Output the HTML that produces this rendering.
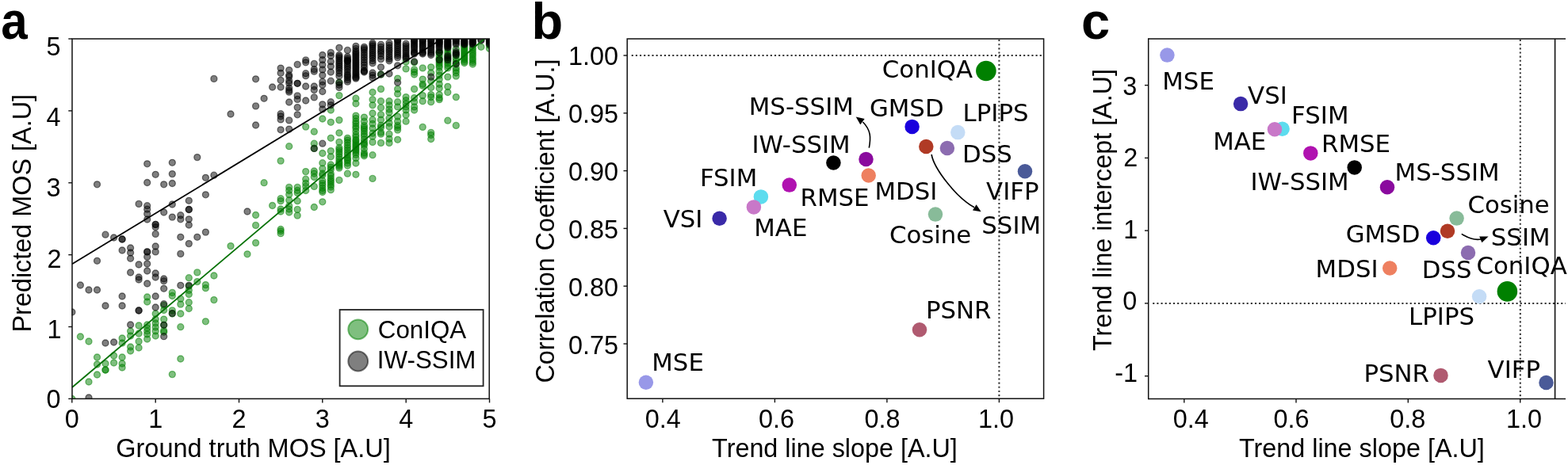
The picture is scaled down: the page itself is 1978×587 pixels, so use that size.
<!DOCTYPE html><html><head><meta charset="utf-8"><title>Figure</title><style>html,body{margin:0;padding:0;background:#fff;overflow:hidden;}svg{display:block;}</style></head><body><svg width="1978" height="587" viewBox="0 0 1978 587">
<rect width="1978" height="587" fill="#fff"/>
<defs><clipPath id="ca"><rect x="90.5" y="49" width="526.5" height="454.5"/></clipPath></defs>
<g clip-path="url(#ca)">
<g fill="rgb(0,128,0)" fill-opacity="0.5" stroke="rgb(0,128,0)" stroke-opacity="0.5" stroke-width="1.3">
<circle cx="90.9" cy="503.5" r="4.0"/>
<circle cx="101.4" cy="425.0" r="4.0"/>
<circle cx="112.0" cy="431.0" r="4.0"/>
<circle cx="112.0" cy="482.0" r="4.0"/>
<circle cx="122.5" cy="451.0" r="4.0"/>
<circle cx="122.5" cy="460.0" r="4.0"/>
<circle cx="122.5" cy="473.0" r="4.0"/>
<circle cx="133.0" cy="459.0" r="4.0"/>
<circle cx="133.0" cy="467.0" r="4.0"/>
<circle cx="133.0" cy="467.0" r="4.0"/>
<circle cx="143.6" cy="449.0" r="4.0"/>
<circle cx="143.6" cy="458.0" r="4.0"/>
<circle cx="154.1" cy="427.0" r="4.0"/>
<circle cx="154.1" cy="433.0" r="4.0"/>
<circle cx="154.1" cy="451.0" r="4.0"/>
<circle cx="154.1" cy="459.0" r="4.0"/>
<circle cx="154.1" cy="464.0" r="4.0"/>
<circle cx="164.6" cy="418.0" r="4.0"/>
<circle cx="164.6" cy="424.0" r="4.0"/>
<circle cx="164.6" cy="438.0" r="4.0"/>
<circle cx="164.6" cy="443.0" r="4.0"/>
<circle cx="175.1" cy="411.0" r="4.0"/>
<circle cx="175.1" cy="421.0" r="4.0"/>
<circle cx="175.1" cy="431.0" r="4.0"/>
<circle cx="175.1" cy="439.0" r="4.0"/>
<circle cx="185.7" cy="375.0" r="4.0"/>
<circle cx="185.7" cy="381.0" r="4.0"/>
<circle cx="185.7" cy="410.0" r="4.0"/>
<circle cx="185.7" cy="414.0" r="4.0"/>
<circle cx="185.7" cy="418.0" r="4.0"/>
<circle cx="185.7" cy="422.0" r="4.0"/>
<circle cx="185.7" cy="428.0" r="4.0"/>
<circle cx="196.2" cy="396.0" r="4.0"/>
<circle cx="196.2" cy="403.0" r="4.0"/>
<circle cx="196.2" cy="408.0" r="4.0"/>
<circle cx="196.2" cy="413.0" r="4.0"/>
<circle cx="196.2" cy="418.0" r="4.0"/>
<circle cx="196.2" cy="424.0" r="4.0"/>
<circle cx="206.7" cy="385.4" r="4.0"/>
<circle cx="206.7" cy="391.5" r="4.0"/>
<circle cx="206.7" cy="403.1" r="4.0"/>
<circle cx="206.7" cy="410.3" r="4.0"/>
<circle cx="206.7" cy="417.4" r="4.0"/>
<circle cx="206.7" cy="419.3" r="4.0"/>
<circle cx="217.3" cy="369.4" r="4.0"/>
<circle cx="217.3" cy="373.5" r="4.0"/>
<circle cx="217.3" cy="391.9" r="4.0"/>
<circle cx="217.3" cy="396.0" r="4.0"/>
<circle cx="217.3" cy="472.6" r="4.0"/>
<circle cx="227.8" cy="377.2" r="4.0"/>
<circle cx="227.8" cy="384.1" r="4.0"/>
<circle cx="227.8" cy="396.0" r="4.0"/>
<circle cx="227.8" cy="412.7" r="4.0"/>
<circle cx="227.8" cy="453.0" r="4.0"/>
<circle cx="238.3" cy="350.7" r="4.0"/>
<circle cx="238.3" cy="361.3" r="4.0"/>
<circle cx="238.3" cy="366.4" r="4.0"/>
<circle cx="238.3" cy="371.5" r="4.0"/>
<circle cx="238.3" cy="381.7" r="4.0"/>
<circle cx="238.3" cy="389.5" r="4.0"/>
<circle cx="248.8" cy="343.9" r="4.0"/>
<circle cx="248.8" cy="355.6" r="4.0"/>
<circle cx="259.4" cy="359.6" r="4.0"/>
<circle cx="259.4" cy="363.7" r="4.0"/>
<circle cx="259.4" cy="405.8" r="4.0"/>
<circle cx="269.9" cy="348.0" r="4.0"/>
<circle cx="269.9" cy="378.6" r="4.0"/>
<circle cx="291.0" cy="310.6" r="4.0"/>
<circle cx="312.0" cy="320.8" r="4.0"/>
<circle cx="322.6" cy="271.5" r="4.0"/>
<circle cx="322.6" cy="284.4" r="4.0"/>
<circle cx="322.6" cy="306.6" r="4.0"/>
<circle cx="333.1" cy="230.7" r="4.0"/>
<circle cx="343.6" cy="259.5" r="4.0"/>
<circle cx="354.1" cy="203.1" r="4.0"/>
<circle cx="354.1" cy="250.7" r="4.0"/>
<circle cx="354.1" cy="253.7" r="4.0"/>
<circle cx="354.1" cy="264.0" r="4.0"/>
<circle cx="354.1" cy="267.0" r="4.0"/>
<circle cx="354.1" cy="289.5" r="4.0"/>
<circle cx="354.1" cy="291.8" r="4.0"/>
<circle cx="354.1" cy="294.7" r="4.0"/>
<circle cx="364.7" cy="184.7" r="4.0"/>
<circle cx="364.7" cy="236.4" r="4.0"/>
<circle cx="364.7" cy="240.5" r="4.0"/>
<circle cx="364.7" cy="245.6" r="4.0"/>
<circle cx="364.7" cy="252.7" r="4.0"/>
<circle cx="364.7" cy="259.9" r="4.0"/>
<circle cx="364.7" cy="264.0" r="4.0"/>
<circle cx="364.7" cy="268.0" r="4.0"/>
<circle cx="375.2" cy="236.4" r="4.0"/>
<circle cx="375.2" cy="240.5" r="4.0"/>
<circle cx="375.2" cy="243.5" r="4.0"/>
<circle cx="375.2" cy="253.7" r="4.0"/>
<circle cx="375.2" cy="264.4" r="4.0"/>
<circle cx="375.2" cy="272.1" r="4.0"/>
<circle cx="385.7" cy="160.1" r="4.0"/>
<circle cx="385.7" cy="216.6" r="4.0"/>
<circle cx="385.7" cy="226.2" r="4.0"/>
<circle cx="385.7" cy="231.3" r="4.0"/>
<circle cx="385.7" cy="235.4" r="4.0"/>
<circle cx="385.7" cy="240.5" r="4.0"/>
<circle cx="396.3" cy="166.2" r="4.0"/>
<circle cx="396.3" cy="181.2" r="4.0"/>
<circle cx="396.3" cy="187.4" r="4.0"/>
<circle cx="396.3" cy="216.0" r="4.0"/>
<circle cx="396.3" cy="219.0" r="4.0"/>
<circle cx="396.3" cy="223.5" r="4.0"/>
<circle cx="396.3" cy="235.4" r="4.0"/>
<circle cx="396.3" cy="261.5" r="4.0"/>
<circle cx="406.8" cy="150.0" r="4.0"/>
<circle cx="406.8" cy="193.5" r="4.0"/>
<circle cx="406.8" cy="205.7" r="4.0"/>
<circle cx="406.8" cy="212.9" r="4.0"/>
<circle cx="406.8" cy="219.0" r="4.0"/>
<circle cx="406.8" cy="221.3" r="4.0"/>
<circle cx="406.8" cy="228.0" r="4.0"/>
<circle cx="406.8" cy="231.3" r="4.0"/>
<circle cx="406.8" cy="234.0" r="4.0"/>
<circle cx="406.8" cy="237.5" r="4.0"/>
<circle cx="406.8" cy="240.5" r="4.0"/>
<circle cx="406.8" cy="242.5" r="4.0"/>
<circle cx="406.8" cy="254.8" r="4.0"/>
<circle cx="417.3" cy="139.0" r="4.0"/>
<circle cx="417.3" cy="154.3" r="4.0"/>
<circle cx="417.3" cy="174.3" r="4.0"/>
<circle cx="417.3" cy="190.6" r="4.0"/>
<circle cx="417.3" cy="197.8" r="4.0"/>
<circle cx="417.3" cy="208.0" r="4.0"/>
<circle cx="417.3" cy="211.1" r="4.0"/>
<circle cx="417.3" cy="214.0" r="4.0"/>
<circle cx="417.3" cy="219.2" r="4.0"/>
<circle cx="417.3" cy="222.0" r="4.0"/>
<circle cx="417.3" cy="225.4" r="4.0"/>
<circle cx="417.3" cy="228.0" r="4.0"/>
<circle cx="417.3" cy="230.5" r="4.0"/>
<circle cx="417.3" cy="233.5" r="4.0"/>
<circle cx="417.3" cy="236.0" r="4.0"/>
<circle cx="417.3" cy="239.7" r="4.0"/>
<circle cx="427.9" cy="104.2" r="4.0"/>
<circle cx="427.9" cy="120.6" r="4.0"/>
<circle cx="427.9" cy="151.6" r="4.0"/>
<circle cx="427.9" cy="167.8" r="4.0"/>
<circle cx="427.9" cy="179.4" r="4.0"/>
<circle cx="427.9" cy="186.6" r="4.0"/>
<circle cx="427.9" cy="189.0" r="4.0"/>
<circle cx="427.9" cy="191.7" r="4.0"/>
<circle cx="427.9" cy="194.5" r="4.0"/>
<circle cx="427.9" cy="197.8" r="4.0"/>
<circle cx="427.9" cy="200.8" r="4.0"/>
<circle cx="427.9" cy="203.9" r="4.0"/>
<circle cx="427.9" cy="206.0" r="4.0"/>
<circle cx="427.9" cy="208.0" r="4.0"/>
<circle cx="427.9" cy="210.0" r="4.0"/>
<circle cx="427.9" cy="212.1" r="4.0"/>
<circle cx="427.9" cy="227.4" r="4.0"/>
<circle cx="438.4" cy="174.3" r="4.0"/>
<circle cx="438.4" cy="177.0" r="4.0"/>
<circle cx="438.4" cy="180.0" r="4.0"/>
<circle cx="438.4" cy="183.5" r="4.0"/>
<circle cx="438.4" cy="186.6" r="4.0"/>
<circle cx="438.4" cy="189.5" r="4.0"/>
<circle cx="438.4" cy="192.7" r="4.0"/>
<circle cx="438.4" cy="195.5" r="4.0"/>
<circle cx="438.4" cy="198.8" r="4.0"/>
<circle cx="438.4" cy="201.0" r="4.0"/>
<circle cx="438.4" cy="202.9" r="4.0"/>
<circle cx="438.4" cy="206.0" r="4.0"/>
<circle cx="438.4" cy="209.0" r="4.0"/>
<circle cx="438.4" cy="219.2" r="4.0"/>
<circle cx="448.9" cy="124.2" r="4.0"/>
<circle cx="448.9" cy="130.8" r="4.0"/>
<circle cx="448.9" cy="146.1" r="4.0"/>
<circle cx="448.9" cy="149.5" r="4.0"/>
<circle cx="448.9" cy="153.2" r="4.0"/>
<circle cx="448.9" cy="156.0" r="4.0"/>
<circle cx="448.9" cy="159.4" r="4.0"/>
<circle cx="448.9" cy="162.0" r="4.0"/>
<circle cx="448.9" cy="166.0" r="4.0"/>
<circle cx="448.9" cy="170.2" r="4.0"/>
<circle cx="448.9" cy="173.0" r="4.0"/>
<circle cx="448.9" cy="176.3" r="4.0"/>
<circle cx="448.9" cy="178.0" r="4.0"/>
<circle cx="448.9" cy="180.4" r="4.0"/>
<circle cx="448.9" cy="182.5" r="4.0"/>
<circle cx="448.9" cy="184.5" r="4.0"/>
<circle cx="448.9" cy="186.5" r="4.0"/>
<circle cx="448.9" cy="188.6" r="4.0"/>
<circle cx="448.9" cy="190.5" r="4.0"/>
<circle cx="448.9" cy="192.7" r="4.0"/>
<circle cx="448.9" cy="195.5" r="4.0"/>
<circle cx="448.9" cy="199.8" r="4.0"/>
<circle cx="448.9" cy="206.0" r="4.0"/>
<circle cx="448.9" cy="220.3" r="4.0"/>
<circle cx="459.4" cy="148.1" r="4.0"/>
<circle cx="459.4" cy="153.2" r="4.0"/>
<circle cx="459.4" cy="158.4" r="4.0"/>
<circle cx="459.4" cy="161.0" r="4.0"/>
<circle cx="459.4" cy="163.1" r="4.0"/>
<circle cx="459.4" cy="166.0" r="4.0"/>
<circle cx="459.4" cy="169.2" r="4.0"/>
<circle cx="459.4" cy="172.0" r="4.0"/>
<circle cx="459.4" cy="176.0" r="4.0"/>
<circle cx="459.4" cy="179.4" r="4.0"/>
<circle cx="459.4" cy="181.5" r="4.0"/>
<circle cx="459.4" cy="183.5" r="4.0"/>
<circle cx="459.4" cy="188.0" r="4.0"/>
<circle cx="459.4" cy="192.7" r="4.0"/>
<circle cx="459.4" cy="195.0" r="4.0"/>
<circle cx="459.4" cy="196.8" r="4.0"/>
<circle cx="470.0" cy="116.5" r="4.0"/>
<circle cx="470.0" cy="125.7" r="4.0"/>
<circle cx="470.0" cy="132.8" r="4.0"/>
<circle cx="470.0" cy="143.0" r="4.0"/>
<circle cx="470.0" cy="151.2" r="4.0"/>
<circle cx="470.0" cy="156.3" r="4.0"/>
<circle cx="470.0" cy="162.0" r="4.0"/>
<circle cx="470.0" cy="168.2" r="4.0"/>
<circle cx="470.0" cy="172.3" r="4.0"/>
<circle cx="470.0" cy="179.4" r="4.0"/>
<circle cx="470.0" cy="195.7" r="4.0"/>
<circle cx="470.0" cy="225.4" r="4.0"/>
<circle cx="480.5" cy="94.0" r="4.0"/>
<circle cx="480.5" cy="112.4" r="4.0"/>
<circle cx="480.5" cy="127.7" r="4.0"/>
<circle cx="480.5" cy="135.9" r="4.0"/>
<circle cx="480.5" cy="144.7" r="4.0"/>
<circle cx="480.5" cy="151.2" r="4.0"/>
<circle cx="480.5" cy="158.4" r="4.0"/>
<circle cx="480.5" cy="161.0" r="4.0"/>
<circle cx="480.5" cy="167.1" r="4.0"/>
<circle cx="480.5" cy="169.2" r="4.0"/>
<circle cx="480.5" cy="180.4" r="4.0"/>
<circle cx="491.0" cy="127.7" r="4.0"/>
<circle cx="491.0" cy="132.8" r="4.0"/>
<circle cx="491.0" cy="137.9" r="4.0"/>
<circle cx="491.0" cy="142.0" r="4.0"/>
<circle cx="491.0" cy="149.2" r="4.0"/>
<circle cx="491.0" cy="155.3" r="4.0"/>
<circle cx="491.0" cy="160.0" r="4.0"/>
<circle cx="491.0" cy="169.2" r="4.0"/>
<circle cx="491.0" cy="175.3" r="4.0"/>
<circle cx="491.0" cy="180.4" r="4.0"/>
<circle cx="501.6" cy="99.1" r="4.0"/>
<circle cx="501.6" cy="112.4" r="4.0"/>
<circle cx="501.6" cy="118.5" r="4.0"/>
<circle cx="501.6" cy="128.7" r="4.0"/>
<circle cx="501.6" cy="134.9" r="4.0"/>
<circle cx="501.6" cy="147.1" r="4.0"/>
<circle cx="501.6" cy="153.2" r="4.0"/>
<circle cx="501.6" cy="158.4" r="4.0"/>
<circle cx="501.6" cy="161.0" r="4.0"/>
<circle cx="501.6" cy="164.1" r="4.0"/>
<circle cx="501.6" cy="176.3" r="4.0"/>
<circle cx="512.1" cy="78.0" r="4.0"/>
<circle cx="512.1" cy="86.9" r="4.0"/>
<circle cx="512.1" cy="122.6" r="4.0"/>
<circle cx="512.1" cy="126.7" r="4.0"/>
<circle cx="512.1" cy="130.8" r="4.0"/>
<circle cx="512.1" cy="134.9" r="4.0"/>
<circle cx="512.1" cy="139.0" r="4.0"/>
<circle cx="512.1" cy="145.1" r="4.0"/>
<circle cx="512.1" cy="153.2" r="4.0"/>
<circle cx="522.6" cy="78.7" r="4.0"/>
<circle cx="522.6" cy="87.9" r="4.0"/>
<circle cx="522.6" cy="91.0" r="4.0"/>
<circle cx="522.6" cy="94.0" r="4.0"/>
<circle cx="522.6" cy="112.4" r="4.0"/>
<circle cx="522.6" cy="123.6" r="4.0"/>
<circle cx="522.6" cy="128.7" r="4.0"/>
<circle cx="522.6" cy="134.9" r="4.0"/>
<circle cx="522.6" cy="139.0" r="4.0"/>
<circle cx="533.2" cy="85.9" r="4.0"/>
<circle cx="533.2" cy="100.1" r="4.0"/>
<circle cx="533.2" cy="106.3" r="4.0"/>
<circle cx="533.2" cy="108.3" r="4.0"/>
<circle cx="533.2" cy="120.6" r="4.0"/>
<circle cx="533.2" cy="127.7" r="4.0"/>
<circle cx="533.2" cy="160.4" r="4.0"/>
<circle cx="543.7" cy="84.8" r="4.0"/>
<circle cx="543.7" cy="92.0" r="4.0"/>
<circle cx="543.7" cy="102.2" r="4.0"/>
<circle cx="543.7" cy="110.4" r="4.0"/>
<circle cx="543.7" cy="119.6" r="4.0"/>
<circle cx="543.7" cy="122.6" r="4.0"/>
<circle cx="543.7" cy="128.7" r="4.0"/>
<circle cx="543.7" cy="167.4" r="4.0"/>
<circle cx="543.7" cy="170.4" r="4.0"/>
<circle cx="543.7" cy="175.5" r="4.0"/>
<circle cx="554.2" cy="65.4" r="4.0"/>
<circle cx="554.2" cy="66.5" r="4.0"/>
<circle cx="554.2" cy="70.0" r="4.0"/>
<circle cx="554.2" cy="73.6" r="4.0"/>
<circle cx="554.2" cy="75.0" r="4.0"/>
<circle cx="554.2" cy="77.7" r="4.0"/>
<circle cx="554.2" cy="80.0" r="4.0"/>
<circle cx="554.2" cy="82.8" r="4.0"/>
<circle cx="554.2" cy="85.0" r="4.0"/>
<circle cx="554.2" cy="90.0" r="4.0"/>
<circle cx="554.2" cy="95.0" r="4.0"/>
<circle cx="554.2" cy="100.1" r="4.0"/>
<circle cx="554.2" cy="106.3" r="4.0"/>
<circle cx="554.2" cy="111.4" r="4.0"/>
<circle cx="554.2" cy="119.6" r="4.0"/>
<circle cx="554.2" cy="123.6" r="4.0"/>
<circle cx="554.2" cy="125.7" r="4.0"/>
<circle cx="564.8" cy="62.0" r="4.0"/>
<circle cx="564.8" cy="65.4" r="4.0"/>
<circle cx="564.8" cy="68.5" r="4.0"/>
<circle cx="564.8" cy="71.6" r="4.0"/>
<circle cx="564.8" cy="74.5" r="4.0"/>
<circle cx="564.8" cy="77.7" r="4.0"/>
<circle cx="564.8" cy="80.0" r="4.0"/>
<circle cx="564.8" cy="82.8" r="4.0"/>
<circle cx="564.8" cy="85.9" r="4.0"/>
<circle cx="564.8" cy="97.1" r="4.0"/>
<circle cx="564.8" cy="109.3" r="4.0"/>
<circle cx="564.8" cy="116.5" r="4.0"/>
<circle cx="564.8" cy="152.2" r="4.0"/>
<circle cx="575.3" cy="62.0" r="4.0"/>
<circle cx="575.3" cy="67.5" r="4.0"/>
<circle cx="575.3" cy="70.0" r="4.0"/>
<circle cx="575.3" cy="73.6" r="4.0"/>
<circle cx="575.3" cy="77.0" r="4.0"/>
<circle cx="575.3" cy="80.0" r="4.0"/>
<circle cx="575.3" cy="85.9" r="4.0"/>
<circle cx="575.3" cy="88.9" r="4.0"/>
<circle cx="575.3" cy="92.0" r="4.0"/>
<circle cx="575.3" cy="96.1" r="4.0"/>
<circle cx="575.3" cy="122.6" r="4.0"/>
<circle cx="575.3" cy="158.4" r="4.0"/>
<circle cx="585.8" cy="57.3" r="4.0"/>
<circle cx="585.8" cy="59.0" r="4.0"/>
<circle cx="585.8" cy="61.3" r="4.0"/>
<circle cx="585.8" cy="63.5" r="4.0"/>
<circle cx="585.8" cy="65.4" r="4.0"/>
<circle cx="585.8" cy="67.5" r="4.0"/>
<circle cx="585.8" cy="69.5" r="4.0"/>
<circle cx="585.8" cy="71.5" r="4.0"/>
<circle cx="585.8" cy="73.6" r="4.0"/>
<circle cx="585.8" cy="75.5" r="4.0"/>
<circle cx="585.8" cy="77.7" r="4.0"/>
<circle cx="585.8" cy="79.5" r="4.0"/>
<circle cx="596.3" cy="60.0" r="4.0"/>
<circle cx="596.3" cy="62.5" r="4.0"/>
<circle cx="596.3" cy="65.4" r="4.0"/>
<circle cx="596.3" cy="68.0" r="4.0"/>
<circle cx="596.3" cy="70.5" r="4.0"/>
<circle cx="596.3" cy="73.6" r="4.0"/>
<circle cx="596.3" cy="76.0" r="4.0"/>
<circle cx="596.3" cy="78.7" r="4.0"/>
<circle cx="596.3" cy="81.0" r="4.0"/>
<circle cx="606.9" cy="59.3" r="4.0"/>
<circle cx="617.4" cy="57.3" r="4.0"/>
<circle cx="617.4" cy="61.3" r="4.0"/>
</g>
<g fill="#000" fill-opacity="0.5" stroke="#000" stroke-opacity="0.5" stroke-width="1.3">
<circle cx="90.9" cy="394.0" r="4.0"/>
<circle cx="101.4" cy="360.0" r="4.0"/>
<circle cx="112.0" cy="366.0" r="4.0"/>
<circle cx="112.0" cy="502.0" r="4.0"/>
<circle cx="122.5" cy="232.8" r="4.0"/>
<circle cx="122.5" cy="329.3" r="4.0"/>
<circle cx="122.5" cy="366.0" r="4.0"/>
<circle cx="133.0" cy="296.2" r="4.0"/>
<circle cx="133.0" cy="386.0" r="4.0"/>
<circle cx="133.0" cy="433.0" r="4.0"/>
<circle cx="143.6" cy="300.0" r="4.0"/>
<circle cx="143.6" cy="432.0" r="4.0"/>
<circle cx="154.1" cy="302.0" r="4.0"/>
<circle cx="154.1" cy="302.0" r="4.0"/>
<circle cx="154.1" cy="316.0" r="4.0"/>
<circle cx="154.1" cy="374.0" r="4.0"/>
<circle cx="154.1" cy="386.0" r="4.0"/>
<circle cx="164.6" cy="313.0" r="4.0"/>
<circle cx="164.6" cy="319.0" r="4.0"/>
<circle cx="164.6" cy="326.3" r="4.0"/>
<circle cx="164.6" cy="344.0" r="4.0"/>
<circle cx="164.6" cy="410.0" r="4.0"/>
<circle cx="175.1" cy="257.4" r="4.0"/>
<circle cx="175.1" cy="334.0" r="4.0"/>
<circle cx="175.1" cy="350.0" r="4.0"/>
<circle cx="175.1" cy="353.0" r="4.0"/>
<circle cx="175.1" cy="392.0" r="4.0"/>
<circle cx="175.1" cy="392.0" r="4.0"/>
<circle cx="185.7" cy="206.8" r="4.0"/>
<circle cx="185.7" cy="230.5" r="4.0"/>
<circle cx="185.7" cy="259.7" r="4.0"/>
<circle cx="185.7" cy="264.2" r="4.0"/>
<circle cx="185.7" cy="269.9" r="4.0"/>
<circle cx="185.7" cy="277.0" r="4.0"/>
<circle cx="185.7" cy="317.9" r="4.0"/>
<circle cx="185.7" cy="317.9" r="4.0"/>
<circle cx="185.7" cy="324.2" r="4.0"/>
<circle cx="185.7" cy="333.0" r="4.0"/>
<circle cx="185.7" cy="342.0" r="4.0"/>
<circle cx="185.7" cy="358.0" r="4.0"/>
<circle cx="196.2" cy="220.3" r="4.0"/>
<circle cx="196.2" cy="283.4" r="4.0"/>
<circle cx="196.2" cy="283.4" r="4.0"/>
<circle cx="196.2" cy="286.7" r="4.0"/>
<circle cx="196.2" cy="295.4" r="4.0"/>
<circle cx="196.2" cy="311.0" r="4.0"/>
<circle cx="196.2" cy="317.9" r="4.0"/>
<circle cx="196.2" cy="345.0" r="4.0"/>
<circle cx="196.2" cy="350.0" r="4.0"/>
<circle cx="196.2" cy="374.0" r="4.0"/>
<circle cx="196.2" cy="388.0" r="4.0"/>
<circle cx="206.7" cy="232.8" r="4.0"/>
<circle cx="206.7" cy="268.0" r="4.0"/>
<circle cx="206.7" cy="352.0" r="4.0"/>
<circle cx="206.7" cy="354.7" r="4.0"/>
<circle cx="206.7" cy="364.3" r="4.0"/>
<circle cx="206.7" cy="383.7" r="4.0"/>
<circle cx="206.7" cy="410.3" r="4.0"/>
<circle cx="206.7" cy="424.7" r="4.0"/>
<circle cx="217.3" cy="205.3" r="4.0"/>
<circle cx="217.3" cy="219.6" r="4.0"/>
<circle cx="217.3" cy="231.5" r="4.0"/>
<circle cx="217.3" cy="258.0" r="4.0"/>
<circle cx="217.3" cy="274.1" r="4.0"/>
<circle cx="217.3" cy="395.6" r="4.0"/>
<circle cx="227.8" cy="271.7" r="4.0"/>
<circle cx="227.8" cy="276.8" r="4.0"/>
<circle cx="227.8" cy="299.3" r="4.0"/>
<circle cx="227.8" cy="320.4" r="4.0"/>
<circle cx="227.8" cy="360.3" r="4.0"/>
<circle cx="238.3" cy="253.3" r="4.0"/>
<circle cx="238.3" cy="264.5" r="4.0"/>
<circle cx="238.3" cy="264.5" r="4.0"/>
<circle cx="238.3" cy="276.8" r="4.0"/>
<circle cx="238.3" cy="284.0" r="4.0"/>
<circle cx="238.3" cy="307.6" r="4.0"/>
<circle cx="238.3" cy="360.3" r="4.0"/>
<circle cx="248.8" cy="198.6" r="4.0"/>
<circle cx="248.8" cy="299.3" r="4.0"/>
<circle cx="259.4" cy="224.3" r="4.0"/>
<circle cx="259.4" cy="245.8" r="4.0"/>
<circle cx="259.4" cy="293.1" r="4.0"/>
<circle cx="269.9" cy="99.4" r="4.0"/>
<circle cx="269.9" cy="221.2" r="4.0"/>
<circle cx="291.0" cy="144.0" r="4.0"/>
<circle cx="312.0" cy="267.0" r="4.0"/>
<circle cx="322.6" cy="99.8" r="4.0"/>
<circle cx="322.6" cy="133.9" r="4.0"/>
<circle cx="322.6" cy="158.0" r="4.0"/>
<circle cx="333.1" cy="124.3" r="4.0"/>
<circle cx="343.6" cy="110.0" r="4.0"/>
<circle cx="354.1" cy="86.1" r="4.0"/>
<circle cx="354.1" cy="92.3" r="4.0"/>
<circle cx="354.1" cy="101.3" r="4.0"/>
<circle cx="354.1" cy="110.0" r="4.0"/>
<circle cx="354.1" cy="143.7" r="4.0"/>
<circle cx="354.1" cy="146.8" r="4.0"/>
<circle cx="354.1" cy="150.9" r="4.0"/>
<circle cx="354.1" cy="163.8" r="4.0"/>
<circle cx="364.7" cy="88.6" r="4.0"/>
<circle cx="364.7" cy="94.7" r="4.0"/>
<circle cx="364.7" cy="96.8" r="4.0"/>
<circle cx="364.7" cy="101.9" r="4.0"/>
<circle cx="364.7" cy="105.0" r="4.0"/>
<circle cx="364.7" cy="111.0" r="4.0"/>
<circle cx="364.7" cy="114.1" r="4.0"/>
<circle cx="364.7" cy="116.2" r="4.0"/>
<circle cx="364.7" cy="129.0" r="4.0"/>
<circle cx="364.7" cy="151.9" r="4.0"/>
<circle cx="364.7" cy="163.1" r="4.0"/>
<circle cx="375.2" cy="81.4" r="4.0"/>
<circle cx="375.2" cy="105.3" r="4.0"/>
<circle cx="375.2" cy="105.3" r="4.0"/>
<circle cx="375.2" cy="120.9" r="4.0"/>
<circle cx="375.2" cy="125.4" r="4.0"/>
<circle cx="375.2" cy="135.6" r="4.0"/>
<circle cx="375.2" cy="144.8" r="4.0"/>
<circle cx="385.7" cy="75.9" r="4.0"/>
<circle cx="385.7" cy="78.8" r="4.0"/>
<circle cx="385.7" cy="92.7" r="4.0"/>
<circle cx="385.7" cy="95.7" r="4.0"/>
<circle cx="385.7" cy="109.0" r="4.0"/>
<circle cx="385.7" cy="127.0" r="4.0"/>
<circle cx="396.3" cy="80.4" r="4.0"/>
<circle cx="396.3" cy="87.6" r="4.0"/>
<circle cx="396.3" cy="90.2" r="4.0"/>
<circle cx="396.3" cy="109.0" r="4.0"/>
<circle cx="396.3" cy="113.5" r="4.0"/>
<circle cx="396.3" cy="122.9" r="4.0"/>
<circle cx="396.3" cy="187.4" r="4.0"/>
<circle cx="406.8" cy="69.5" r="4.0"/>
<circle cx="406.8" cy="75.6" r="4.0"/>
<circle cx="406.8" cy="81.8" r="4.0"/>
<circle cx="406.8" cy="87.9" r="4.0"/>
<circle cx="406.8" cy="95.0" r="4.0"/>
<circle cx="406.8" cy="103.2" r="4.0"/>
<circle cx="406.8" cy="107.3" r="4.0"/>
<circle cx="406.8" cy="115.5" r="4.0"/>
<circle cx="406.8" cy="131.8" r="4.0"/>
<circle cx="406.8" cy="137.9" r="4.0"/>
<circle cx="406.8" cy="181.2" r="4.0"/>
<circle cx="417.3" cy="66.4" r="4.0"/>
<circle cx="417.3" cy="70.5" r="4.0"/>
<circle cx="417.3" cy="77.7" r="4.0"/>
<circle cx="417.3" cy="83.8" r="4.0"/>
<circle cx="417.3" cy="91.0" r="4.0"/>
<circle cx="417.3" cy="102.2" r="4.0"/>
<circle cx="417.3" cy="128.7" r="4.0"/>
<circle cx="417.3" cy="132.8" r="4.0"/>
<circle cx="427.9" cy="60.3" r="4.0"/>
<circle cx="427.9" cy="69.5" r="4.0"/>
<circle cx="427.9" cy="71.5" r="4.0"/>
<circle cx="427.9" cy="73.6" r="4.0"/>
<circle cx="427.9" cy="76.2" r="4.0"/>
<circle cx="427.9" cy="78.7" r="4.0"/>
<circle cx="427.9" cy="81.2" r="4.0"/>
<circle cx="427.9" cy="83.8" r="4.0"/>
<circle cx="427.9" cy="86.3" r="4.0"/>
<circle cx="427.9" cy="88.9" r="4.0"/>
<circle cx="427.9" cy="92.5" r="4.0"/>
<circle cx="427.9" cy="96.1" r="4.0"/>
<circle cx="427.9" cy="104.2" r="4.0"/>
<circle cx="427.9" cy="107.3" r="4.0"/>
<circle cx="427.9" cy="110.4" r="4.0"/>
<circle cx="438.4" cy="63.4" r="4.0"/>
<circle cx="438.4" cy="71.6" r="4.0"/>
<circle cx="438.4" cy="73.7" r="4.0"/>
<circle cx="438.4" cy="75.8" r="4.0"/>
<circle cx="438.4" cy="76.8" r="4.0"/>
<circle cx="438.4" cy="77.7" r="4.0"/>
<circle cx="438.4" cy="80.2" r="4.0"/>
<circle cx="438.4" cy="82.8" r="4.0"/>
<circle cx="438.4" cy="85.3" r="4.0"/>
<circle cx="438.4" cy="87.9" r="4.0"/>
<circle cx="438.4" cy="91.0" r="4.0"/>
<circle cx="438.4" cy="94.0" r="4.0"/>
<circle cx="438.4" cy="96.0" r="4.0"/>
<circle cx="438.4" cy="98.1" r="4.0"/>
<circle cx="438.4" cy="100.7" r="4.0"/>
<circle cx="438.4" cy="103.2" r="4.0"/>
<circle cx="448.9" cy="58.3" r="4.0"/>
<circle cx="448.9" cy="61.4" r="4.0"/>
<circle cx="448.9" cy="64.4" r="4.0"/>
<circle cx="448.9" cy="66.5" r="4.0"/>
<circle cx="448.9" cy="68.5" r="4.0"/>
<circle cx="448.9" cy="70.5" r="4.0"/>
<circle cx="448.9" cy="72.6" r="4.0"/>
<circle cx="448.9" cy="74.7" r="4.0"/>
<circle cx="448.9" cy="76.7" r="4.0"/>
<circle cx="448.9" cy="78.7" r="4.0"/>
<circle cx="448.9" cy="80.7" r="4.0"/>
<circle cx="448.9" cy="82.8" r="4.0"/>
<circle cx="448.9" cy="84.8" r="4.0"/>
<circle cx="448.9" cy="86.8" r="4.0"/>
<circle cx="448.9" cy="88.9" r="4.0"/>
<circle cx="448.9" cy="91.0" r="4.0"/>
<circle cx="448.9" cy="93.0" r="4.0"/>
<circle cx="448.9" cy="94.8" r="4.0"/>
<circle cx="448.9" cy="96.7" r="4.0"/>
<circle cx="448.9" cy="97.9" r="4.0"/>
<circle cx="448.9" cy="99.1" r="4.0"/>
<circle cx="459.4" cy="59.3" r="4.0"/>
<circle cx="459.4" cy="61.3" r="4.0"/>
<circle cx="459.4" cy="63.4" r="4.0"/>
<circle cx="459.4" cy="66.5" r="4.0"/>
<circle cx="459.4" cy="69.5" r="4.0"/>
<circle cx="459.4" cy="72.5" r="4.0"/>
<circle cx="459.4" cy="75.6" r="4.0"/>
<circle cx="459.4" cy="78.7" r="4.0"/>
<circle cx="459.4" cy="81.8" r="4.0"/>
<circle cx="459.4" cy="85.3" r="4.0"/>
<circle cx="459.4" cy="88.9" r="4.0"/>
<circle cx="459.4" cy="90.0" r="4.0"/>
<circle cx="459.4" cy="91.0" r="4.0"/>
<circle cx="470.0" cy="54.2" r="4.0"/>
<circle cx="470.0" cy="56.2" r="4.0"/>
<circle cx="470.0" cy="58.3" r="4.0"/>
<circle cx="470.0" cy="60.8" r="4.0"/>
<circle cx="470.0" cy="63.4" r="4.0"/>
<circle cx="470.0" cy="66.0" r="4.0"/>
<circle cx="470.0" cy="68.5" r="4.0"/>
<circle cx="470.0" cy="71.0" r="4.0"/>
<circle cx="470.0" cy="73.6" r="4.0"/>
<circle cx="470.0" cy="76.7" r="4.0"/>
<circle cx="470.0" cy="79.7" r="4.0"/>
<circle cx="470.0" cy="92.0" r="4.0"/>
<circle cx="470.0" cy="95.0" r="4.0"/>
<circle cx="470.0" cy="98.1" r="4.0"/>
<circle cx="480.5" cy="56.2" r="4.0"/>
<circle cx="480.5" cy="59.3" r="4.0"/>
<circle cx="480.5" cy="62.4" r="4.0"/>
<circle cx="480.5" cy="65.0" r="4.0"/>
<circle cx="480.5" cy="67.5" r="4.0"/>
<circle cx="480.5" cy="71.0" r="4.0"/>
<circle cx="480.5" cy="74.6" r="4.0"/>
<circle cx="480.5" cy="84.8" r="4.0"/>
<circle cx="480.5" cy="94.0" r="4.0"/>
<circle cx="491.0" cy="54.2" r="4.0"/>
<circle cx="491.0" cy="57.2" r="4.0"/>
<circle cx="491.0" cy="60.3" r="4.0"/>
<circle cx="491.0" cy="62.9" r="4.0"/>
<circle cx="491.0" cy="65.4" r="4.0"/>
<circle cx="491.0" cy="68.5" r="4.0"/>
<circle cx="491.0" cy="71.6" r="4.0"/>
<circle cx="491.0" cy="74.2" r="4.0"/>
<circle cx="491.0" cy="76.8" r="4.0"/>
<circle cx="491.0" cy="93.0" r="4.0"/>
<circle cx="501.6" cy="49.5" r="4.0"/>
<circle cx="501.6" cy="51.0" r="4.0"/>
<circle cx="501.6" cy="52.1" r="4.0"/>
<circle cx="501.6" cy="54.7" r="4.0"/>
<circle cx="501.6" cy="57.3" r="4.0"/>
<circle cx="501.6" cy="59.8" r="4.0"/>
<circle cx="501.6" cy="62.4" r="4.0"/>
<circle cx="501.6" cy="65.0" r="4.0"/>
<circle cx="501.6" cy="67.5" r="4.0"/>
<circle cx="501.6" cy="70.0" r="4.0"/>
<circle cx="501.6" cy="72.6" r="4.0"/>
<circle cx="501.6" cy="82.8" r="4.0"/>
<circle cx="501.6" cy="104.2" r="4.0"/>
<circle cx="512.1" cy="55.2" r="4.0"/>
<circle cx="512.1" cy="57.8" r="4.0"/>
<circle cx="512.1" cy="60.3" r="4.0"/>
<circle cx="512.1" cy="62.9" r="4.0"/>
<circle cx="512.1" cy="65.4" r="4.0"/>
<circle cx="512.1" cy="68.0" r="4.0"/>
<circle cx="512.1" cy="70.5" r="4.0"/>
<circle cx="512.1" cy="72.2" r="4.0"/>
<circle cx="512.1" cy="74.0" r="4.0"/>
<circle cx="522.6" cy="49.5" r="4.0"/>
<circle cx="522.6" cy="51.0" r="4.0"/>
<circle cx="522.6" cy="52.1" r="4.0"/>
<circle cx="522.6" cy="54.2" r="4.0"/>
<circle cx="522.6" cy="56.2" r="4.0"/>
<circle cx="522.6" cy="58.2" r="4.0"/>
<circle cx="522.6" cy="60.3" r="4.0"/>
<circle cx="522.6" cy="62.9" r="4.0"/>
<circle cx="522.6" cy="65.4" r="4.0"/>
<circle cx="522.6" cy="66.7" r="4.0"/>
<circle cx="522.6" cy="68.0" r="4.0"/>
<circle cx="522.6" cy="77.7" r="4.0"/>
<circle cx="533.2" cy="49.5" r="4.0"/>
<circle cx="533.2" cy="51.0" r="4.0"/>
<circle cx="533.2" cy="52.1" r="4.0"/>
<circle cx="533.2" cy="54.2" r="4.0"/>
<circle cx="533.2" cy="56.2" r="4.0"/>
<circle cx="533.2" cy="58.2" r="4.0"/>
<circle cx="533.2" cy="60.3" r="4.0"/>
<circle cx="533.2" cy="62.9" r="4.0"/>
<circle cx="533.2" cy="65.4" r="4.0"/>
<circle cx="533.2" cy="66.7" r="4.0"/>
<circle cx="533.2" cy="68.0" r="4.0"/>
<circle cx="543.7" cy="49.5" r="4.0"/>
<circle cx="543.7" cy="51.0" r="4.0"/>
<circle cx="543.7" cy="52.1" r="4.0"/>
<circle cx="543.7" cy="54.2" r="4.0"/>
<circle cx="543.7" cy="56.2" r="4.0"/>
<circle cx="543.7" cy="58.2" r="4.0"/>
<circle cx="543.7" cy="60.3" r="4.0"/>
<circle cx="543.7" cy="62.9" r="4.0"/>
<circle cx="543.7" cy="65.4" r="4.0"/>
<circle cx="543.7" cy="67.5" r="4.0"/>
<circle cx="543.7" cy="69.5" r="4.0"/>
<circle cx="543.7" cy="97.1" r="4.0"/>
<circle cx="554.2" cy="49.5" r="4.0"/>
<circle cx="554.2" cy="51.0" r="4.0"/>
<circle cx="554.2" cy="52.1" r="4.0"/>
<circle cx="554.2" cy="53.0" r="4.0"/>
<circle cx="554.2" cy="54.0" r="4.0"/>
<circle cx="554.2" cy="55.1" r="4.0"/>
<circle cx="554.2" cy="56.2" r="4.0"/>
<circle cx="554.2" cy="58.2" r="4.0"/>
<circle cx="554.2" cy="60.3" r="4.0"/>
<circle cx="554.2" cy="63.4" r="4.0"/>
<circle cx="554.2" cy="66.4" r="4.0"/>
<circle cx="554.2" cy="75.6" r="4.0"/>
<circle cx="564.8" cy="49.5" r="4.0"/>
<circle cx="564.8" cy="51.0" r="4.0"/>
<circle cx="564.8" cy="52.1" r="4.0"/>
<circle cx="564.8" cy="53.0" r="4.0"/>
<circle cx="564.8" cy="54.0" r="4.0"/>
<circle cx="564.8" cy="55.1" r="4.0"/>
<circle cx="564.8" cy="56.2" r="4.0"/>
<circle cx="564.8" cy="57.1" r="4.0"/>
<circle cx="564.8" cy="58.0" r="4.0"/>
<circle cx="564.8" cy="59.1" r="4.0"/>
<circle cx="564.8" cy="60.3" r="4.0"/>
<circle cx="564.8" cy="70.5" r="4.0"/>
<circle cx="564.8" cy="73.0" r="4.0"/>
<circle cx="564.8" cy="75.6" r="4.0"/>
<circle cx="575.3" cy="49.5" r="4.0"/>
<circle cx="575.3" cy="51.0" r="4.0"/>
<circle cx="575.3" cy="52.1" r="4.0"/>
<circle cx="575.3" cy="54.2" r="4.0"/>
<circle cx="575.3" cy="56.2" r="4.0"/>
<circle cx="575.3" cy="65.4" r="4.0"/>
<circle cx="575.3" cy="67.5" r="4.0"/>
<circle cx="575.3" cy="69.5" r="4.0"/>
<circle cx="575.3" cy="80.7" r="4.0"/>
<circle cx="585.8" cy="49.5" r="4.0"/>
<circle cx="585.8" cy="51.0" r="4.0"/>
<circle cx="585.8" cy="52.1" r="4.0"/>
<circle cx="585.8" cy="53.0" r="4.0"/>
<circle cx="585.8" cy="54.0" r="4.0"/>
<circle cx="585.8" cy="55.1" r="4.0"/>
<circle cx="585.8" cy="56.2" r="4.0"/>
<circle cx="596.3" cy="49.5" r="4.0"/>
<circle cx="596.3" cy="51.0" r="4.0"/>
<circle cx="596.3" cy="52.1" r="4.0"/>
<circle cx="596.3" cy="53.0" r="4.0"/>
<circle cx="596.3" cy="54.0" r="4.0"/>
<circle cx="596.3" cy="55.1" r="4.0"/>
<circle cx="596.3" cy="56.2" r="4.0"/>
<circle cx="606.9" cy="50.1" r="4.0"/>
<circle cx="606.9" cy="51.0" r="4.0"/>
<circle cx="617.4" cy="49.5" r="4.0"/>
<circle cx="617.4" cy="50.3" r="4.0"/>
<circle cx="617.4" cy="51.1" r="4.0"/>
<circle cx="617.4" cy="52.0" r="4.0"/>
<circle cx="617.4" cy="53.0" r="4.0"/>
<circle cx="617.4" cy="54.5" r="4.0"/>
<circle cx="617.4" cy="56.0" r="4.0"/>
</g>
<line x1="91.00" y1="333.36" x2="558.09" y2="49.00" stroke="#000" stroke-width="1.75" stroke-linecap="butt"/>
<line x1="91.00" y1="489.04" x2="610.97" y2="49.00" stroke="#007000" stroke-width="1.75" stroke-linecap="butt"/>
</g>
<rect x="91.0" y="49.0" width="526.2" height="454.4" fill="none" stroke="#111" stroke-width="1.5"/>
<line x1="90.80" y1="503.40" x2="90.80" y2="508.40" stroke="#111" stroke-width="1.4" stroke-linecap="butt"/>
<line x1="196.20" y1="503.40" x2="196.20" y2="508.40" stroke="#111" stroke-width="1.4" stroke-linecap="butt"/>
<line x1="301.50" y1="503.40" x2="301.50" y2="508.40" stroke="#111" stroke-width="1.4" stroke-linecap="butt"/>
<line x1="406.80" y1="503.40" x2="406.80" y2="508.40" stroke="#111" stroke-width="1.4" stroke-linecap="butt"/>
<line x1="512.20" y1="503.40" x2="512.20" y2="508.40" stroke="#111" stroke-width="1.4" stroke-linecap="butt"/>
<line x1="617.50" y1="503.40" x2="617.50" y2="508.40" stroke="#111" stroke-width="1.4" stroke-linecap="butt"/>
<line x1="86.30" y1="49.00" x2="91.00" y2="49.00" stroke="#111" stroke-width="1.4" stroke-linecap="butt"/>
<line x1="86.30" y1="139.88" x2="91.00" y2="139.88" stroke="#111" stroke-width="1.4" stroke-linecap="butt"/>
<line x1="86.30" y1="230.76" x2="91.00" y2="230.76" stroke="#111" stroke-width="1.4" stroke-linecap="butt"/>
<line x1="86.30" y1="321.64" x2="91.00" y2="321.64" stroke="#111" stroke-width="1.4" stroke-linecap="butt"/>
<line x1="86.30" y1="412.52" x2="91.00" y2="412.52" stroke="#111" stroke-width="1.4" stroke-linecap="butt"/>
<line x1="86.30" y1="503.40" x2="91.00" y2="503.40" stroke="#111" stroke-width="1.4" stroke-linecap="butt"/>
<rect x="428.6" y="391" width="181" height="96.3" fill="#fff" stroke="#222" stroke-width="1.8"/>
<circle cx="451.7" cy="415.8" r="12.4" fill="rgb(0,128,0)" fill-opacity="0.5" stroke="rgb(0,128,0)" stroke-opacity="0.5" stroke-width="2"/>
<circle cx="451.7" cy="456.0" r="12.4" fill="#000" fill-opacity="0.5" stroke="#000" stroke-opacity="0.5" stroke-width="2"/>
<line x1="796.70" y1="70.00" x2="1316.60" y2="70.00" stroke="#333" stroke-width="2" stroke-linecap="butt" stroke-dasharray="2.1 3.05"/>
<line x1="1260.40" y1="50.00" x2="1260.40" y2="504.20" stroke="#333" stroke-width="2" stroke-linecap="butt" stroke-dasharray="2.1 3.05"/>
<circle cx="814.9" cy="482.7" r="9.25" fill="#9898e8"/>
<circle cx="907.6" cy="275.7" r="9.25" fill="#3a2aa8"/>
<circle cx="959.9" cy="248.4" r="9.25" fill="#5ddcee"/>
<circle cx="950.9" cy="261.4" r="9.25" fill="#c878c8"/>
<circle cx="995.8" cy="233.6" r="9.25" fill="#b012b0"/>
<circle cx="1051.4" cy="205.5" r="9.25" fill="#000000"/>
<circle cx="1092.5" cy="201.0" r="9.25" fill="#8a0a9e"/>
<circle cx="1095.7" cy="221.5" r="9.25" fill="#ee8060"/>
<circle cx="1150.6" cy="159.9" r="9.25" fill="#1a00dd"/>
<circle cx="1168.3" cy="185.0" r="9.25" fill="#b03a25"/>
<circle cx="1194.9" cy="187.0" r="9.25" fill="#8c6cb0"/>
<circle cx="1208.3" cy="167.1" r="9.25" fill="#c4dcf6"/>
<circle cx="1293.0" cy="216.3" r="9.25" fill="#4a5a98"/>
<circle cx="1180.0" cy="270.6" r="9.25" fill="#88bb99"/>
<circle cx="1160.0" cy="416.3" r="9.25" fill="#b05a70"/>
<circle cx="1243.9" cy="89.5" r="12.8" fill="#008000"/>
<rect x="791.2" y="49.0" width="525.4" height="454.2" fill="none" stroke="#111" stroke-width="1.5"/>
<line x1="835.90" y1="503.20" x2="835.90" y2="508.20" stroke="#111" stroke-width="1.4" stroke-linecap="butt"/>
<line x1="977.40" y1="503.20" x2="977.40" y2="508.20" stroke="#111" stroke-width="1.4" stroke-linecap="butt"/>
<line x1="1118.90" y1="503.20" x2="1118.90" y2="508.20" stroke="#111" stroke-width="1.4" stroke-linecap="butt"/>
<line x1="1260.40" y1="503.20" x2="1260.40" y2="508.20" stroke="#111" stroke-width="1.4" stroke-linecap="butt"/>
<line x1="786.50" y1="70.00" x2="791.20" y2="70.00" stroke="#111" stroke-width="1.4" stroke-linecap="butt"/>
<line x1="786.50" y1="142.80" x2="791.20" y2="142.80" stroke="#111" stroke-width="1.4" stroke-linecap="butt"/>
<line x1="786.50" y1="215.60" x2="791.20" y2="215.60" stroke="#111" stroke-width="1.4" stroke-linecap="butt"/>
<line x1="786.50" y1="288.40" x2="791.20" y2="288.40" stroke="#111" stroke-width="1.4" stroke-linecap="butt"/>
<line x1="786.50" y1="361.20" x2="791.20" y2="361.20" stroke="#111" stroke-width="1.4" stroke-linecap="butt"/>
<line x1="786.50" y1="434.00" x2="791.20" y2="434.00" stroke="#111" stroke-width="1.4" stroke-linecap="butt"/>
<path d="M1096.3,186.7 C1098.7,173.9 1098.8,164.5 1088.5,154.0" fill="none" stroke="#000" stroke-width="1.6"/>
<polygon points="1079.7,147.4 1090.7,150.0 1085.3,157.2" fill="#000"/>
<path d="M1175.1,195.0 C1178.2,212.8 1206.5,249.8 1229.0,261.7" fill="none" stroke="#000" stroke-width="1.6"/>
<polygon points="1237.6,267.2 1227.0,265.5 1231.6,258.3" fill="#000"/>
<line x1="1454.20" y1="382.90" x2="1975.00" y2="382.90" stroke="#333" stroke-width="2" stroke-linecap="butt" stroke-dasharray="2.1 3.05"/>
<line x1="1917.80" y1="50.00" x2="1917.80" y2="504.50" stroke="#333" stroke-width="2" stroke-linecap="butt" stroke-dasharray="2.1 3.05"/>
<line x1="1961.60" y1="49.00" x2="1961.60" y2="503.50" stroke="#111" stroke-width="1.6" stroke-linecap="butt"/>
<circle cx="1472.4" cy="69.6" r="9.25" fill="#9898e8"/>
<circle cx="1565.1" cy="131.1" r="9.25" fill="#3a2aa8"/>
<circle cx="1617.6" cy="162.8" r="9.25" fill="#5ddcee"/>
<circle cx="1608.0" cy="163.3" r="9.25" fill="#c878c8"/>
<circle cx="1653.3" cy="193.4" r="9.25" fill="#b012b0"/>
<circle cx="1708.7" cy="211.4" r="9.25" fill="#000000"/>
<circle cx="1750.0" cy="236.2" r="9.25" fill="#8a0a9e"/>
<circle cx="1837.6" cy="275.6" r="9.25" fill="#88bb99"/>
<circle cx="1808.2" cy="300.2" r="9.25" fill="#1a00dd"/>
<circle cx="1826.0" cy="291.7" r="9.25" fill="#b03a25"/>
<circle cx="1852.0" cy="319.0" r="9.25" fill="#8c6cb0"/>
<circle cx="1753.2" cy="338.5" r="9.25" fill="#ee8060"/>
<circle cx="1866.1" cy="374.2" r="9.25" fill="#c4dcf6"/>
<circle cx="1817.5" cy="473.9" r="9.25" fill="#b05a70"/>
<circle cx="1950.5" cy="483.0" r="9.25" fill="#4a5a98"/>
<circle cx="1901.4" cy="367.9" r="12.8" fill="#008000"/>
<line x1="1448.70" y1="49.00" x2="1975.00" y2="49.00" stroke="#111" stroke-width="1.5" stroke-linecap="butt"/>
<line x1="1448.70" y1="503.50" x2="1975.00" y2="503.50" stroke="#111" stroke-width="1.5" stroke-linecap="butt"/>
<line x1="1448.70" y1="48.25" x2="1448.70" y2="504.25" stroke="#111" stroke-width="1.5" stroke-linecap="butt"/>
<line x1="1493.80" y1="503.50" x2="1493.80" y2="508.50" stroke="#111" stroke-width="1.4" stroke-linecap="butt"/>
<line x1="1635.00" y1="503.50" x2="1635.00" y2="508.50" stroke="#111" stroke-width="1.4" stroke-linecap="butt"/>
<line x1="1776.30" y1="503.50" x2="1776.30" y2="508.50" stroke="#111" stroke-width="1.4" stroke-linecap="butt"/>
<line x1="1917.70" y1="503.50" x2="1917.70" y2="508.50" stroke="#111" stroke-width="1.4" stroke-linecap="butt"/>
<line x1="1444.00" y1="107.60" x2="1448.70" y2="107.60" stroke="#111" stroke-width="1.4" stroke-linecap="butt"/>
<line x1="1444.00" y1="199.40" x2="1448.70" y2="199.40" stroke="#111" stroke-width="1.4" stroke-linecap="butt"/>
<line x1="1444.00" y1="291.10" x2="1448.70" y2="291.10" stroke="#111" stroke-width="1.4" stroke-linecap="butt"/>
<line x1="1444.00" y1="382.90" x2="1448.70" y2="382.90" stroke="#111" stroke-width="1.4" stroke-linecap="butt"/>
<line x1="1444.00" y1="474.70" x2="1448.70" y2="474.70" stroke="#111" stroke-width="1.4" stroke-linecap="butt"/>
<path d="M1843.7,295.4 C1849.9,298.6 1857.3,303.7 1868.3,302.0" fill="none" stroke="#000" stroke-width="1.6"/>
<polygon points="1877.6,298.4 1869.4,306.3 1866.2,298.4" fill="#000"/>
<text x="0" y="0" transform="translate(1.25 49.40) scale(0.925 1.03)" font-family="'Liberation Sans', Arial, sans-serif" font-size="65" font-weight="bold">a</text>
<text x="670.50" y="49.30" font-family="'Liberation Sans', Arial, sans-serif" font-size="65" font-weight="bold">b</text>
<text x="1363.90" y="49.00" font-family="'Liberation Sans', Arial, sans-serif" font-size="65" font-weight="bold">c</text>
<text x="90.80" y="539.50" font-family="'Liberation Sans', Arial, sans-serif" font-size="32.4" font-weight="normal" text-anchor="middle">0</text>
<text x="196.20" y="539.50" font-family="'Liberation Sans', Arial, sans-serif" font-size="32.4" font-weight="normal" text-anchor="middle">1</text>
<text x="301.50" y="539.50" font-family="'Liberation Sans', Arial, sans-serif" font-size="32.4" font-weight="normal" text-anchor="middle">2</text>
<text x="406.80" y="539.50" font-family="'Liberation Sans', Arial, sans-serif" font-size="32.4" font-weight="normal" text-anchor="middle">3</text>
<text x="512.20" y="539.50" font-family="'Liberation Sans', Arial, sans-serif" font-size="32.4" font-weight="normal" text-anchor="middle">4</text>
<text x="617.50" y="539.50" font-family="'Liberation Sans', Arial, sans-serif" font-size="32.4" font-weight="normal" text-anchor="middle">5</text>
<text x="58.60" y="70.00" font-family="'Liberation Sans', Arial, sans-serif" font-size="32.4" font-weight="normal">5</text>
<text x="58.60" y="158.90" font-family="'Liberation Sans', Arial, sans-serif" font-size="32.4" font-weight="normal">4</text>
<text x="58.60" y="248.30" font-family="'Liberation Sans', Arial, sans-serif" font-size="32.4" font-weight="normal">3</text>
<text x="59.60" y="337.50" font-family="'Liberation Sans', Arial, sans-serif" font-size="32.4" font-weight="normal">2</text>
<text x="59.60" y="426.70" font-family="'Liberation Sans', Arial, sans-serif" font-size="32.4" font-weight="normal">1</text>
<text x="58.60" y="515.40" font-family="'Liberation Sans', Arial, sans-serif" font-size="32.4" font-weight="normal">0</text>
<text x="717.00" y="81.90" font-family="'Liberation Sans', Arial, sans-serif" font-size="32.4" font-weight="normal">1.00</text>
<text x="717.00" y="155.10" font-family="'Liberation Sans', Arial, sans-serif" font-size="32.4" font-weight="normal">0.95</text>
<text x="717.00" y="227.90" font-family="'Liberation Sans', Arial, sans-serif" font-size="32.4" font-weight="normal">0.90</text>
<text x="717.00" y="300.70" font-family="'Liberation Sans', Arial, sans-serif" font-size="32.4" font-weight="normal">0.85</text>
<text x="717.00" y="373.50" font-family="'Liberation Sans', Arial, sans-serif" font-size="32.4" font-weight="normal">0.80</text>
<text x="717.00" y="446.50" font-family="'Liberation Sans', Arial, sans-serif" font-size="32.4" font-weight="normal">0.75</text>
<text x="813.70" y="539.50" font-family="'Liberation Sans', Arial, sans-serif" font-size="32.4" font-weight="normal">0.4</text>
<text x="957.00" y="539.50" font-family="'Liberation Sans', Arial, sans-serif" font-size="32.4" font-weight="normal">0.6</text>
<text x="1090.50" y="539.50" font-family="'Liberation Sans', Arial, sans-serif" font-size="32.4" font-weight="normal">0.8</text>
<text x="1234.10" y="539.50" font-family="'Liberation Sans', Arial, sans-serif" font-size="32.4" font-weight="normal">1.0</text>
<text x="1416.30" y="119.60" font-family="'Liberation Sans', Arial, sans-serif" font-size="32.4" font-weight="normal">3</text>
<text x="1417.30" y="210.30" font-family="'Liberation Sans', Arial, sans-serif" font-size="32.4" font-weight="normal">2</text>
<text x="1417.30" y="300.70" font-family="'Liberation Sans', Arial, sans-serif" font-size="32.4" font-weight="normal">1</text>
<text x="1416.30" y="391.10" font-family="'Liberation Sans', Arial, sans-serif" font-size="32.4" font-weight="normal">0</text>
<text x="1406.30" y="481.80" font-family="'Liberation Sans', Arial, sans-serif" font-size="32.4" font-weight="normal">-1</text>
<text x="1479.80" y="539.50" font-family="'Liberation Sans', Arial, sans-serif" font-size="32.4" font-weight="normal">0.4</text>
<text x="1606.60" y="539.50" font-family="'Liberation Sans', Arial, sans-serif" font-size="32.4" font-weight="normal">0.6</text>
<text x="1753.20" y="539.50" font-family="'Liberation Sans', Arial, sans-serif" font-size="32.4" font-weight="normal">0.8</text>
<text x="1899.90" y="539.50" font-family="'Liberation Sans', Arial, sans-serif" font-size="32.4" font-weight="normal">1.0</text>
<text x="476.80" y="426.80" font-family="'Liberation Sans', Arial, sans-serif" font-size="31.3" font-weight="normal">ConIQA</text>
<text x="475.80" y="464.60" font-family="'Liberation Sans', Arial, sans-serif" font-size="31.3" font-weight="normal">IW-SSIM</text>
<text x="1112.80" y="98.20" font-family="'DejaVu Sans', 'Liberation Sans', sans-serif" font-size="30.8" font-weight="normal">ConIQA</text>
<text x="1096.90" y="146.90" font-family="'DejaVu Sans', 'Liberation Sans', sans-serif" font-size="30.8" font-weight="normal">GMSD</text>
<text x="1214.60" y="152.60" font-family="'DejaVu Sans', 'Liberation Sans', sans-serif" font-size="30.8" font-weight="normal">LPIPS</text>
<text x="1214.10" y="204.80" font-family="'DejaVu Sans', 'Liberation Sans', sans-serif" font-size="30.8" font-weight="normal">DSS</text>
<text x="944.80" y="145.20" font-family="'DejaVu Sans', 'Liberation Sans', sans-serif" font-size="30.8" font-weight="normal">MS-SSIM</text>
<text x="948.50" y="193.00" font-family="'DejaVu Sans', 'Liberation Sans', sans-serif" font-size="30.8" font-weight="normal">IW-SSIM</text>
<text x="882.90" y="235.20" font-family="'DejaVu Sans', 'Liberation Sans', sans-serif" font-size="30.8" font-weight="normal">FSIM</text>
<text x="1009.50" y="260.30" font-family="'DejaVu Sans', 'Liberation Sans', sans-serif" font-size="30.8" font-weight="normal">RMSE</text>
<text x="1103.50" y="252.20" font-family="'DejaVu Sans', 'Liberation Sans', sans-serif" font-size="30.8" font-weight="normal">MDSI</text>
<text x="1244.10" y="251.60" font-family="'DejaVu Sans', 'Liberation Sans', sans-serif" font-size="30.8" font-weight="normal">VIFP</text>
<text x="836.70" y="286.80" font-family="'DejaVu Sans', 'Liberation Sans', sans-serif" font-size="30.8" font-weight="normal">VSI</text>
<text x="951.30" y="298.40" font-family="'DejaVu Sans', 'Liberation Sans', sans-serif" font-size="30.8" font-weight="normal">MAE</text>
<text x="1238.30" y="294.60" font-family="'DejaVu Sans', 'Liberation Sans', sans-serif" font-size="30.8" font-weight="normal">SSIM</text>
<text x="1121.90" y="306.50" font-family="'DejaVu Sans', 'Liberation Sans', sans-serif" font-size="30.8" font-weight="normal">Cosine</text>
<text x="1167.90" y="401.60" font-family="'DejaVu Sans', 'Liberation Sans', sans-serif" font-size="30.8" font-weight="normal">PSNR</text>
<text x="822.30" y="468.10" font-family="'DejaVu Sans', 'Liberation Sans', sans-serif" font-size="30.8" font-weight="normal">MSE</text>
<text x="1466.30" y="112.60" font-family="'DejaVu Sans', 'Liberation Sans', sans-serif" font-size="30.8" font-weight="normal">MSE</text>
<text x="1574.10" y="131.10" font-family="'DejaVu Sans', 'Liberation Sans', sans-serif" font-size="30.8" font-weight="normal">VSI</text>
<text x="1629.10" y="156.30" font-family="'DejaVu Sans', 'Liberation Sans', sans-serif" font-size="30.8" font-weight="normal">FSIM</text>
<text x="1530.20" y="189.40" font-family="'DejaVu Sans', 'Liberation Sans', sans-serif" font-size="30.8" font-weight="normal">MAE</text>
<text x="1667.00" y="191.60" font-family="'DejaVu Sans', 'Liberation Sans', sans-serif" font-size="30.8" font-weight="normal">RMSE</text>
<text x="1577.50" y="239.50" font-family="'DejaVu Sans', 'Liberation Sans', sans-serif" font-size="30.8" font-weight="normal">IW-SSIM</text>
<text x="1759.60" y="227.80" font-family="'DejaVu Sans', 'Liberation Sans', sans-serif" font-size="30.8" font-weight="normal">MS-SSIM</text>
<text x="1851.40" y="269.20" font-family="'DejaVu Sans', 'Liberation Sans', sans-serif" font-size="30.8" font-weight="normal">Cosine</text>
<text x="1880.80" y="310.10" font-family="'DejaVu Sans', 'Liberation Sans', sans-serif" font-size="30.8" font-weight="normal">SSIM</text>
<text x="1697.70" y="305.80" font-family="'DejaVu Sans', 'Liberation Sans', sans-serif" font-size="30.8" font-weight="normal">GMSD</text>
<text x="1659.60" y="349.70" font-family="'DejaVu Sans', 'Liberation Sans', sans-serif" font-size="30.8" font-weight="normal">MDSI</text>
<text x="1793.80" y="350.50" font-family="'DejaVu Sans', 'Liberation Sans', sans-serif" font-size="30.8" font-weight="normal">DSS</text>
<text x="1862.50" y="346.10" font-family="'DejaVu Sans', 'Liberation Sans', sans-serif" font-size="30.8" font-weight="normal">ConIQA</text>
<text x="1777.10" y="410.00" font-family="'DejaVu Sans', 'Liberation Sans', sans-serif" font-size="30.8" font-weight="normal">LPIPS</text>
<text x="1720.40" y="482.30" font-family="'DejaVu Sans', 'Liberation Sans', sans-serif" font-size="30.8" font-weight="normal">PSNR</text>
<text x="1876.60" y="477.10" font-family="'DejaVu Sans', 'Liberation Sans', sans-serif" font-size="30.8" font-weight="normal">VIFP</text>
<text x="0" y="0" transform="translate(39.40 419.50) rotate(-90)" font-family="'Liberation Sans', Arial, sans-serif" font-size="32.4" font-weight="normal">Predicted MOS [A.U]</text>
<text x="146.30" y="577.00" font-family="'Liberation Sans', Arial, sans-serif" font-size="32.48" font-weight="normal">Ground truth MOS [A.U]</text>
<text x="0" y="0" transform="translate(698.70 483.50) rotate(-90)" font-family="'Liberation Sans', Arial, sans-serif" font-size="32.34" font-weight="normal">Correlation Coefficient [A.U.]</text>
<text x="898.10" y="577.20" font-family="'Liberation Sans', Arial, sans-serif" font-size="32.35" font-weight="normal">Trend line slope [A.U]</text>
<text x="0" y="0" transform="translate(1402.20 443.10) rotate(-90)" font-family="'Liberation Sans', Arial, sans-serif" font-size="32.31" font-weight="normal">Trend line intercept [A.U]</text>
<text x="1562.90" y="577.20" font-family="'Liberation Sans', Arial, sans-serif" font-size="32.37" font-weight="normal">Trend line slope [A.U]</text>
</svg></body></html>
